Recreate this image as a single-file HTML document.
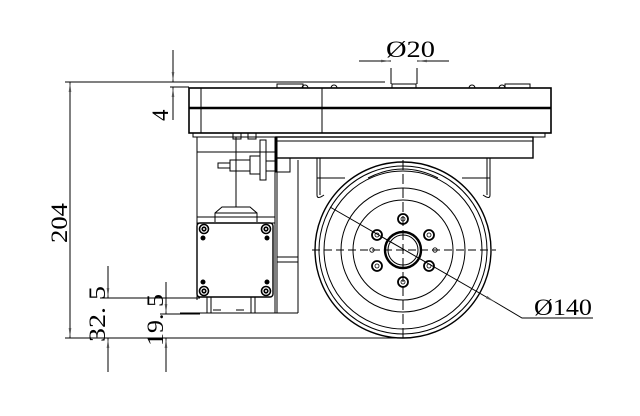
<!DOCTYPE html>
<html><head><meta charset="utf-8"><style>html,body{margin:0;padding:0;background:#fff;}svg{display:block}</style></head>
<body>
<svg width="640" height="416" viewBox="0 0 640 416" xmlns="http://www.w3.org/2000/svg" font-family="Liberation Serif, serif">
<defs>
<marker id="a" viewBox="0 0 10 4" refX="10" refY="2" markerWidth="10" markerHeight="4" orient="auto-start-reverse" markerUnits="userSpaceOnUse"><path d="M0,0.7 L10,2 L0,3.3Z" fill="#555"/></marker>
</defs>
<g stroke="#000" fill="none" stroke-width="1">
<rect x="189" y="88" width="362" height="45" stroke-width="1.6"/>
<line x1="189" y1="108" x2="551" y2="108" stroke-width="2.4"/>
<line x1="201" y1="88" x2="201" y2="133"/>
<line x1="322" y1="88" x2="322" y2="133"/>
<path d="M277,88 V84 H303 V88 M392,88 V84 H416 V88 M505,88 V84 H530 V88"/>
<path d="M302,88 a3,3 0 0 1 6,0 M331,88 a3,3 0 0 1 6,0 M469,88 a3,3 0 0 1 6,0 M499,88 a3,3 0 0 1 6,0"/>
<rect x="193" y="133" width="352" height="4"/>
<rect x="276" y="137" width="257" height="21" stroke-width="1.4"/>
<line x1="276" y1="141" x2="533" y2="141"/>
<path d="M197,137 V300 M275,137 V313 M298,160 V313 M277,137 V313"/>
<line x1="197" y1="152" x2="275" y2="152"/>
<line x1="277" y1="257" x2="298" y2="257"/><line x1="277" y1="262" x2="298" y2="262"/>
<line x1="180" y1="313" x2="298" y2="313"/>
<rect x="218" y="163" width="12" height="5"/>
<rect x="230" y="160" width="20" height="11"/>
<rect x="250" y="156" width="10" height="18"/>
<rect x="260" y="140" width="6" height="40"/>
<rect x="266" y="161" width="10" height="10"/>
<rect x="276" y="158" width="14" height="14"/>
<line x1="236" y1="137" x2="236" y2="207"/>
<rect x="233" y="133" width="8" height="6"/><rect x="248" y="133" width="8" height="6"/>
<path d="M215,222 V213 L222,207 H250 L257,213 V222"/>
<line x1="215" y1="213" x2="257" y2="213"/>
<rect x="197" y="217" width="78" height="6"/>
<rect x="197" y="223" width="76" height="74" rx="3" stroke-width="1.4"/>
<g stroke-width="1.6">
<circle cx="204" cy="229" r="4.5"/><circle cx="204" cy="229" r="1.8"/>
<circle cx="266" cy="229" r="4.5"/><circle cx="266" cy="229" r="1.8"/>
<circle cx="204" cy="291" r="4.5"/><circle cx="204" cy="291" r="1.8"/>
<circle cx="266" cy="291" r="4.5"/><circle cx="266" cy="291" r="1.8"/>
</g>
<g fill="#000" stroke="none"><circle cx="203" cy="238" r="2.5"/><circle cx="267" cy="238" r="2.5"/><circle cx="203" cy="282" r="2.5"/><circle cx="267" cy="282" r="2.5"/></g>
<path d="M207,297 V313 M211,297 V313 M251,297 V313 M255,297 V313 M213,310 h8 M236,310 h8"/>
<path d="M317,158 V195 Q317,200 324,195 M320,158 V195 M490,158 V195 Q490,200 483,195 M487,158 V195"/>
<line x1="317" y1="178" x2="345" y2="178"/><line x1="462" y1="178" x2="490" y2="178"/>
<circle cx="403" cy="250" r="88" stroke-width="1.4"/>
<circle cx="403" cy="250" r="84"/>
<circle cx="403" cy="250" r="79"/>
<circle cx="403" cy="250" r="62"/>
<circle cx="403" cy="250" r="50"/>
<circle cx="403" cy="250" r="18" stroke-width="2.4"/>
<circle cx="403" cy="250" r="15"/>
<path d="M368,178 Q403,160 438,178" />
<g stroke-width="1.8">
<circle cx="403" cy="219" r="5"/><circle cx="377" cy="235" r="5"/><circle cx="429" cy="235" r="5"/>
<circle cx="377" cy="266" r="5"/><circle cx="429" cy="266" r="5"/><circle cx="403" cy="282" r="5"/>
</g>
<g stroke-width="0.8">
<circle cx="403" cy="219" r="2"/><circle cx="377" cy="235" r="2"/><circle cx="429" cy="235" r="2"/>
<circle cx="377" cy="266" r="2"/><circle cx="429" cy="266" r="2"/><circle cx="403" cy="282" r="2"/>
<circle cx="372" cy="250" r="2.2"/><circle cx="435" cy="250" r="2.2"/>
</g>
<line x1="312" y1="250" x2="496" y2="250" stroke-dasharray="8,4"/>
<line x1="403" y1="160" x2="403" y2="342" stroke-dasharray="10,4"/>
<line x1="65" y1="82" x2="385" y2="82"/>
<line x1="170" y1="87" x2="189" y2="87"/>
<line x1="65" y1="338" x2="405" y2="338"/>
<line x1="100" y1="298" x2="200" y2="298"/>
<line x1="160" y1="314" x2="200" y2="314"/>
</g>
<g stroke="#000" stroke-width="1" fill="none">
<line x1="70" y1="82" x2="70" y2="338" marker-start="url(#a)" marker-end="url(#a)"/>
<line x1="173" y1="50" x2="173" y2="82" marker-end="url(#a)"/>
<line x1="173" y1="120" x2="173" y2="87" marker-end="url(#a)"/>
<line x1="108" y1="266" x2="108" y2="298" marker-end="url(#a)"/>
<line x1="108" y1="372" x2="108" y2="338" marker-end="url(#a)"/>
<line x1="166" y1="282" x2="166" y2="314" marker-end="url(#a)"/>
<line x1="166" y1="372" x2="166" y2="338" marker-end="url(#a)"/>
<line x1="391" y1="68" x2="391" y2="84"/><line x1="417" y1="68" x2="417" y2="84"/>
<line x1="359" y1="61" x2="391" y2="61" marker-end="url(#a)"/>
<line x1="449" y1="61" x2="417" y2="61" marker-end="url(#a)"/>
<line x1="330" y1="207" x2="495" y2="302" marker-end="url(#a)"/>
<polyline points="495,302 522,318 593,318"/>
</g>
<g font-size="23" fill="#000">
<text x="386" y="57" textLength="49" lengthAdjust="spacingAndGlyphs">Ø20</text>
<text x="534" y="315" textLength="58" lengthAdjust="spacingAndGlyphs">Ø140</text>
<text transform="translate(67,243) rotate(-90)" textLength="40" lengthAdjust="spacingAndGlyphs">204</text>
<text transform="translate(168,121) rotate(-90)">4</text>
<text transform="translate(105,342) rotate(-90)" textLength="56" lengthAdjust="spacingAndGlyphs">32. 5</text>
<text transform="translate(163,346) rotate(-90)" textLength="52" lengthAdjust="spacingAndGlyphs">19. 5</text>
</g>
</svg>
</body></html>
